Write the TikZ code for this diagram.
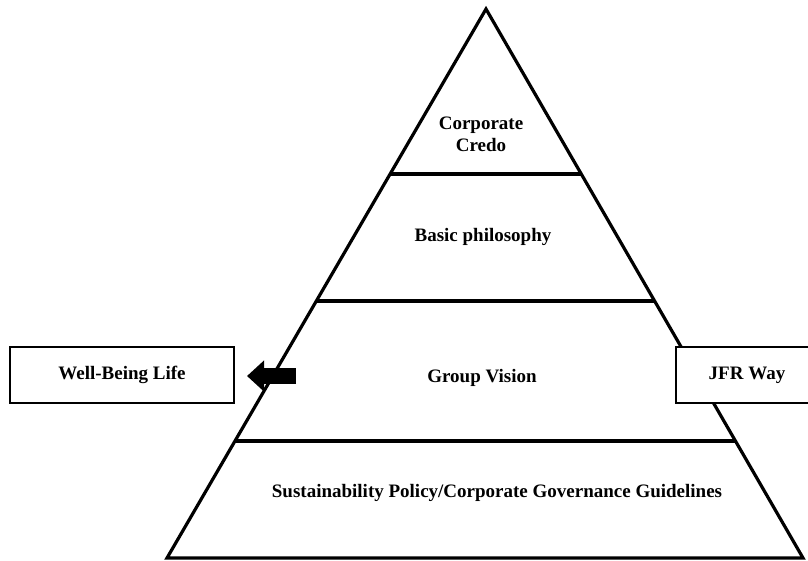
\documentclass[tikz,border=0pt]{standalone}
\usepackage{fontspec}
\setmainfont{Liberation Serif}
\usepackage{tikz}
\usetikzlibrary{arrows.meta}
\usetikzlibrary{calc}

\begin{document}
\begin{tikzpicture}[x=1pt,y=-1pt,line width=3.2pt,every node/.style={font=\bfseries\fontsize{19}{22}\selectfont,align=center,inner sep=0pt},sidebox/.style={draw,fill=white,line width=2.8pt,minimum height=56pt}]
	
	\useasboundingbox (0,0) rectangle (808,560);
	\clip (0,0) rectangle (808,560);
	
	% pyramid
	\coordinate (apex) at (486,9);
	\coordinate (bl) at (167,558);
	\coordinate (br) at (803,558);
	\draw[line join=miter] (apex) -- (bl) -- (br) -- cycle;
	
	\draw ($(apex)!0.3005!(bl)$) -- ($(apex)!0.3005!(br)$);
	\draw ($(apex)!0.532!(bl)$) -- ($(apex)!0.532!(br)$);
	\draw ($(apex)!0.787!(bl)$) -- ($(apex)!0.787!(br)$);
	
	\node (credo) at (481,134) {Corporate\\Credo};
	\node (basic) at (483,237) {Basic philosophy};
	\node (vision) at (482,378) {Group Vision};
	\node (policy) at (497,493) {Sustainability Policy/Corporate Governance Guidelines};
	
	% side boxes
	\node[sidebox,minimum width=224pt] (life) at (122,375) {Well-Being Life};
	\node[sidebox,minimum width=142pt] (way) at (747,375) {JFR Way};
	
	\coordinate (arrowtail) at (296,376);
	\coordinate (arrowtip) at (247,376);
	\draw[line width=16pt,-{Triangle[length=17pt,width=30pt]}] (arrowtail) -- (arrowtip);
	
\end{tikzpicture}
\end{document}
